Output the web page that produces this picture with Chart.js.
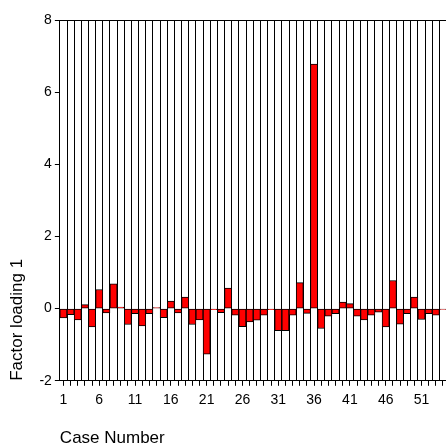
<!DOCTYPE html>
<html>
<head>
<meta charset="utf-8">
<script src="https://cdn.jsdelivr.net/npm/chart.js@4"></script>
<style>
  html, body { margin: 0; padding: 0; background: #fff; overflow: hidden; }
  #wrap { width: 449px; height: 446px; }
</style>
</head>
<body>
<div id="wrap"><canvas id="chart" width="449" height="446"></canvas></div>
<script>
// case numbers 1..54 (last one cut off at the right edge)
const cases = [];
for (let i = 1; i <= 54; i++) cases.push(String(i));

// factor loading 1 per case
const loadings = [
  -0.26, -0.17, -0.31, 0.11, -0.51, 0.53, -0.12, 0.69, 0.04, -0.44,
  -0.14, -0.48, -0.14, 0.03, -0.25, 0.21, -0.12, 0.32, -0.44, -0.31,
  -1.26, -0.03, -0.11, 0.57, -0.18, -0.50, -0.37, -0.32, -0.18, -0.03,
  -0.61, -0.61, -0.18, 0.72, -0.13, 6.78, -0.55, -0.21, -0.14, 0.18,
  0.14, -0.21, -0.31, -0.18, -0.10, -0.51, 0.78, -0.43, -0.14, 0.32,
  -0.30, -0.14, -0.18, -0.02
];

const yMin = -2, yMax = 8, yStep = 2;

Chart.defaults.font.family = 'Arial, "Liberation Sans", sans-serif';
Chart.defaults.color = '#000';

new Chart(document.getElementById('chart'), {
  type: 'bar',
  data: {
    labels: cases,
    datasets: [{
      data: loadings,
      backgroundColor: '#ff0000',
      borderColor: '#000',
      borderWidth: 1,
      borderSkipped: false,
      barPercentage: 1,
      categoryPercentage: 1,
      xAxisID: 'x'
    }]
  },
  options: {
    responsive: false,
    animation: false,
    layout: { padding: { top: 20, right: 0, left: 7, bottom: 0 } },
    plugins: { legend: { display: false }, tooltip: { enabled: false } },
    scales: {
      x: {
        position: 'bottom',
        offset: true,
        grid: { offset: true, color: '#000', lineWidth: 1, drawTicks: false },
        border: { display: true, color: '#000' },
        ticks: { display: false }
      },
      x2: {
        type: 'category',
        labels: cases,
        position: 'bottom',
        offset: true,
        grid: { offset: false, drawOnChartArea: false, color: '#000', tickLength: 5 },
        border: { display: false },
        ticks: {
          autoSkip: false,
          maxRotation: 0,
          padding: 6,
          font: { size: 14 },
          callback: function (v, i) { return i % 5 === 0 ? cases[i] : ''; }
        },
        title: {
          display: true,
          text: 'Case Number',
          align: 'start',
          font: { size: 17 },
          padding: { top: 14, bottom: -3 }
        }
      },
      y: {
        min: yMin,
        max: yMax,
        ticks: { stepSize: yStep, font: { size: 14 }, padding: 3 },
        grid: {
          color: ctx => (ctx.tick && ctx.tick.value === yMax) ? '#000' : 'rgba(0,0,0,0)',
          tickColor: '#000',
          tickLength: 5
        },
        border: { display: true, color: '#000' },
        title: {
          display: true,
          text: 'Factor loading 1',
          align: 'start',
          font: { size: 17 },
          padding: { top: 0, bottom: 9 }
        }
      }
    }
  }
});
</script>
</body>
</html>
